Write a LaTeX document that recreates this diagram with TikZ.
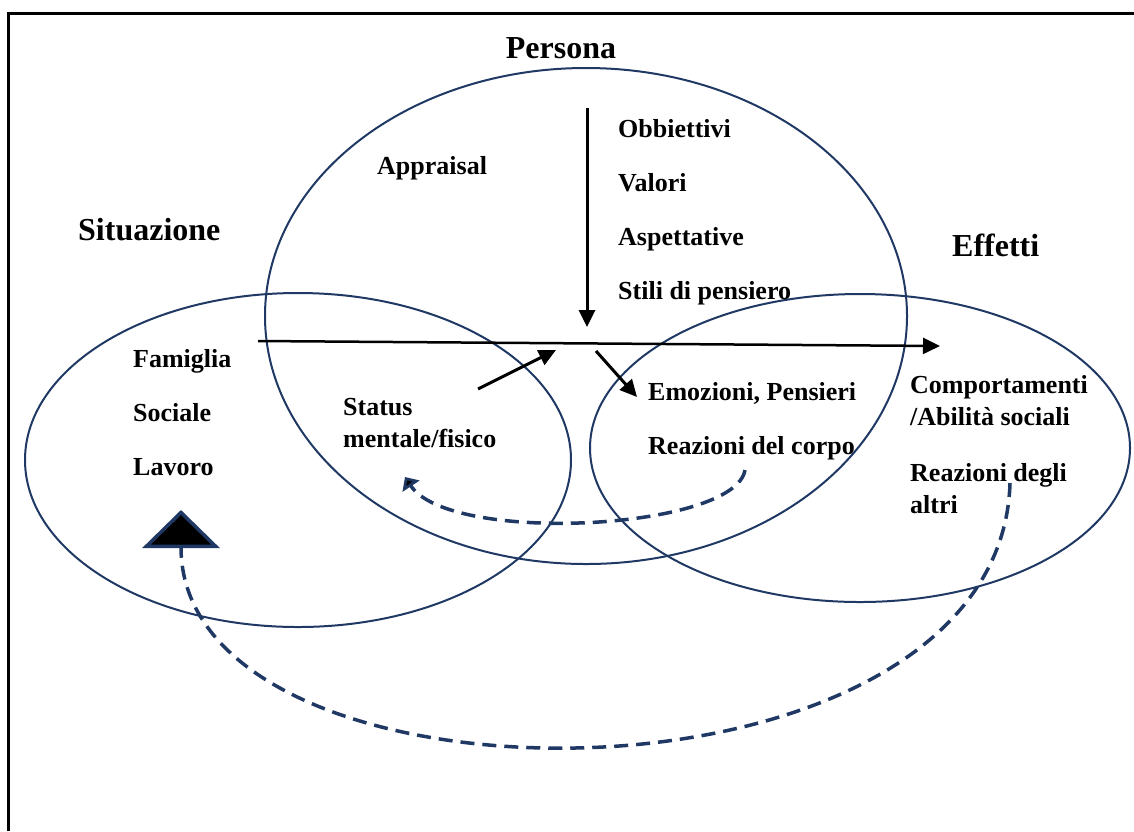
\documentclass[tikz,border=0pt]{standalone}
\usepackage{fontspec}
\setmainfont{Liberation Serif}
\usetikzlibrary{positioning,arrows.meta,shapes.geometric}
\definecolor{navy}{RGB}{31,56,100}

\begin{document}
\begin{tikzpicture}[x=1pt, y=-1pt, node distance=54pt,
  txt/.style={font=\bfseries\fontsize{26}{32}\selectfont, inner sep=0pt, anchor=west, align=left},
  item/.style={txt, text height=23pt, text depth=6pt},
  head/.style={font=\bfseries\fontsize{32}{38}\selectfont, inner sep=0pt},
  ring/.style={draw=navy, line width=2pt, ellipse, inner sep=0pt},
  flow/.style={line width=3pt, -{Triangle[length=17pt,width=16pt]}},
  back/.style={draw=navy, line width=3.5pt, dash pattern=on 14pt off 8pt}]
      \useasboundingbox (0,0) rectangle (1134,831);
      \draw [line width=3pt] (8,831) -- (8,13) -- (1134,13);
      % the three circles
      \node (persring) [ring, minimum width=642pt, minimum height=496pt] at (586,316) {};
      \node (sitring) [ring, minimum width=546pt, minimum height=334pt] at (298,460) {};
      \node (effring) [ring, minimum width=540pt, minimum height=308pt] at (860,448) {};
      % headings
      \node (pers) [head] at (561,48) {Persona};
      \node (sit) [head, anchor=west] at (78,230) {Situazione};
      \node (eff) [head, anchor=west] at (952,245) {Effetti};
      % persona
      \node (app) [item] at (377,166) {Appraisal};
      \node (obi) [item] at (618,129) {Obbiettivi};
      \node (val) [item, below=of obi.west, anchor=west] {Valori};
      \node (asp) [item, below=of val.west, anchor=west] {Aspettative};
      \node (stil) [item, below=of asp.west, anchor=west] {Stili di pensiero};
      \node (stat) [txt] at (343,423) {Status\\mentale/fisico};
      % situazione
      \node (fam) [item] at (133,359) {Famiglia};
      \node (soc) [item, below=of fam.west, anchor=west] {Sociale};
      \node (lav) [item, below=of soc.west, anchor=west] {Lavoro};
      % effetti
      \node (emo) [item] at (648,392) {Emozioni, Pensieri};
      \node (corp) [item, below=of emo.west, anchor=west] {Reazioni del corpo};
      \node (comp) [txt] at (910,401) {Comportamenti\\/Abilità sociali};
      \node (altr) [txt] at (910,489) {Reazioni degli\\altri};
      % arrows
      \coordinate (h1) at (258,341);
      \coordinate (h2) at (940,346);
      \coordinate (v1) at (587,108);
      \coordinate (v2) at (587,327);
      \coordinate (d1) at (478,389);
      \coordinate (d2) at (556,350);
      \coordinate (e1) at (596,351);
      \coordinate (e2) at (637,397);
      \coordinate (c1) at (745,470);
      \coordinate (c2) at (405,477);
      \coordinate (r1) at (1010,483);
      \coordinate (r2) at (181,510);
      \draw [flow, line width=2.5pt] (h1) -- (h2);
      \draw [flow] (v1) -- (v2);
      \draw [flow] (d1) -- (d2);
      \draw [flow] (e1) -- (e2);
      \draw [back, -{Triangle[length=11pt,width=20pt,fill=black]}] (c1) .. controls (735,530) and (450,545) .. (c2);
      \draw [back, -{Triangle[length=38pt,width=77pt,fill=black]}] (r1) .. controls (1000,825) and (181,825) .. (r2);
\end{tikzpicture}
\end{document}
